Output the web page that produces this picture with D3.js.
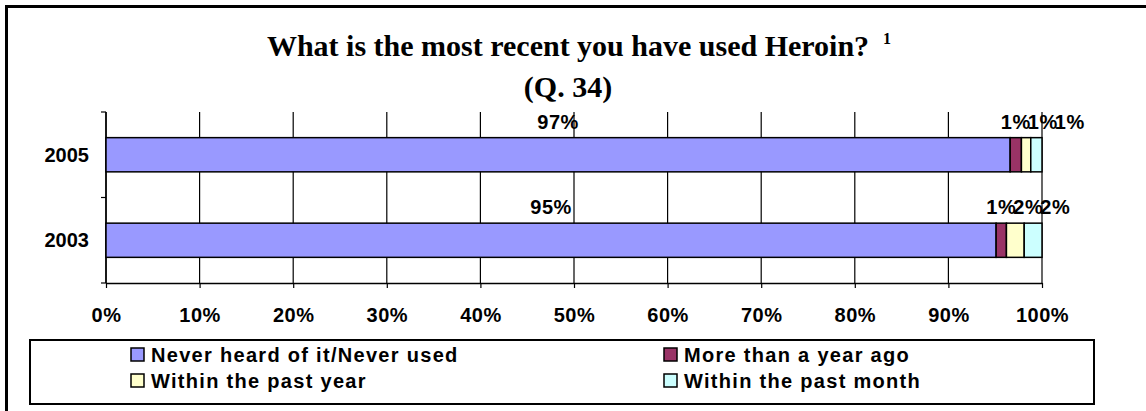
<!DOCTYPE html>
<html>
<head>
<meta charset="utf-8">
<script src="https://cdn.jsdelivr.net/npm/d3@7"></script>
<style>
  html, body { margin: 0; padding: 0; background: #fff; }
  svg { display: block; }
</style>
</head>
<body>
<svg id="chart" width="1146" height="411"></svg>
<script>
// ---- data ----
const categories = ["2005", "2003"];
const seriesNames = ["Never heard of it/Never used", "More than a year ago", "Within the past year", "Within the past month"];
const seriesColors = ["#9999FF", "#993366", "#FFFFCC", "#CCFFFF"];
const values2005 = [0.966, 0.012, 0.010, 0.012];
const values2003 = [0.951, 0.011, 0.019, 0.019];
const xTickValues = [0, 0.1, 0.2, 0.3, 0.4, 0.5, 0.6, 0.7, 0.8, 0.9, 1.0];
const titleLine1 = "What is the most recent you have used Heroin?";
const titleSup = "1";
const titleLine2 = "(Q. 34)";

const valuesByCat = { "2005": values2005, "2003": values2003 };

// ---- layout ----
const W = 1146, H = 411;
const plot = { left: 106, right: 1042, top: 112, bottom: 283 };
const svg = d3.select("#chart");

svg.append("rect").attr("width", W).attr("height", H).attr("fill", "#fff");
// outer frame (right / bottom edges fall outside the picture)
svg.append("rect")
  .attr("x", 6.5).attr("y", 6.5).attr("width", W + 50).attr("height", H + 50)
  .attr("fill", "none").attr("stroke", "#000").attr("stroke-width", 3);

const x = d3.scaleLinear().domain([0, 1]).range([plot.left, plot.right]);
const y = d3.scaleBand().domain(categories).range([plot.top, plot.bottom]).padding(0);
const barH = y.bandwidth() * 0.4;

// ---- title ----
const cx = (plot.left + plot.right) / 2 - 6;
const serif = "'Liberation Serif', 'Times New Roman', serif";
const t1 = svg.append("text")
  .attr("x", cx).attr("y", 56)
  .attr("text-anchor", "middle")
  .attr("font-family", serif)
  .attr("font-weight", "bold").attr("font-size", 30)
  .text(titleLine1);
const t1w = t1.node().getComputedTextLength();
svg.append("text")
  .attr("x", cx + t1w / 2 + 14).attr("y", 44)
  .attr("font-family", serif)
  .attr("font-weight", "bold").attr("font-size", 16)
  .text(titleSup);
svg.append("text")
  .attr("x", cx).attr("y", 97)
  .attr("text-anchor", "middle")
  .attr("font-family", serif)
  .attr("font-weight", "bold").attr("font-size", 30)
  .text(titleLine2);

// ---- gridlines ----
svg.append("g").selectAll("line").data(xTickValues).join("line")
  .attr("x1", d => x(d)).attr("x2", d => x(d))
  .attr("y1", plot.top).attr("y2", plot.bottom)
  .attr("stroke", "#000").attr("stroke-width", 1.2);

// ---- x axis ----
const xAxis = svg.append("g")
  .attr("transform", `translate(0,${plot.bottom})`)
  .call(d3.axisBottom(x).tickValues(xTickValues).tickFormat(d3.format(".0%")).tickSize(5).tickSizeOuter(0));
xAxis.select(".domain").attr("stroke", "#000").attr("stroke-width", 1.5);
xAxis.selectAll(".tick line").attr("stroke", "#000").attr("stroke-width", 1.2);
xAxis.selectAll(".tick text")
  .attr("y", 25)
  .attr("fill", "#000")
  .attr("font-family", "'Liberation Sans', Arial, sans-serif")
  .attr("font-weight", "bold").attr("font-size", 20)
  .attr("letter-spacing", 0.5);

// ---- y axis ----
const yAxisG = svg.append("g");
yAxisG.append("line")
  .attr("x1", plot.left).attr("x2", plot.left)
  .attr("y1", plot.top).attr("y2", plot.bottom)
  .attr("stroke", "#000").attr("stroke-width", 1.5);
const yBounds = [plot.top].concat(categories.map(c => y(c) + y.bandwidth()));
yAxisG.selectAll("line.tk").data(yBounds).join("line").attr("class", "tk")
  .attr("x1", plot.left - 5).attr("x2", plot.left)
  .attr("y1", d => d).attr("y2", d => d)
  .attr("stroke", "#000").attr("stroke-width", 1.2);
yAxisG.selectAll("text").data(categories).join("text")
  .attr("x", plot.left - 17)
  .attr("y", d => y(d) + y.bandwidth() / 2)
  .attr("dy", "0.36em")
  .attr("text-anchor", "end")
  .attr("font-family", "'Liberation Sans', Arial, sans-serif")
  .attr("font-weight", "bold").attr("font-size", 20)
  .text(d => d);

// ---- stacked bars ----
const rows = categories.map(c => {
  const obj = { cat: c };
  seriesNames.forEach((s, i) => obj[s] = valuesByCat[c][i]);
  return obj;
});
const stack = d3.stack().keys(seriesNames)(rows);

const barTop = c => y(c) + (y.bandwidth() - barH) / 2;

svg.append("g").selectAll("g").data(stack).join("g")
  .attr("fill", (d, i) => seriesColors[i])
  .selectAll("rect").data(d => d).join("rect")
  .attr("x", d => x(d[0]))
  .attr("y", d => barTop(d.data.cat))
  .attr("width", d => x(d[1]) - x(d[0]))
  .attr("height", barH)
  .attr("stroke", "#000").attr("stroke-width", 1.5);

// ---- data labels ----
const fmt = d3.format(".0%");
const labelG = svg.append("g")
  .attr("font-family", "'Liberation Sans', Arial, sans-serif")
  .attr("font-weight", "bold").attr("font-size", 20)
  .attr("letter-spacing", 0.5)
  .attr("text-anchor", "middle");
categories.forEach(c => {
  let prevX = -Infinity;
  stack.forEach((s, i) => {
    const d = s.find(e => e.data.cat === c);
    let lx = (x(d[0]) + x(d[1])) / 2;
    if (i > 0) { lx = Math.max(lx, prevX + 27); }
    prevX = lx;
    labelG.append("text")
      .attr("x", lx)
      .attr("y", barTop(c) - 9)
      .text(fmt(Math.round((d[1] - d[0]) * 100) / 100));
  });
});

// ---- legend ----
const lg = svg.append("g");
lg.append("rect")
  .attr("x", 30).attr("y", 340).attr("width", 1064).attr("height", 64)
  .attr("fill", "#fff").attr("stroke", "#000").attr("stroke-width", 2);
const legendPos = [
  { x: 131, y: 355 }, { x: 664, y: 355 },
  { x: 131, y: 381 }, { x: 664, y: 381 }
];
seriesNames.forEach((s, i) => {
  const p = legendPos[i];
  lg.append("rect")
    .attr("x", p.x).attr("y", p.y - 7).attr("width", 13).attr("height", 13)
    .attr("fill", seriesColors[i]).attr("stroke", "#000").attr("stroke-width", 1.5);
  lg.append("text")
    .attr("x", p.x + 20).attr("y", p.y)
    .attr("dy", "0.36em")
    .attr("font-family", "'Liberation Sans', Arial, sans-serif")
    .attr("font-weight", "bold").attr("font-size", 20)
    .attr("letter-spacing", 1.3)
    .text(s);
});
</script>
</body>
</html>
